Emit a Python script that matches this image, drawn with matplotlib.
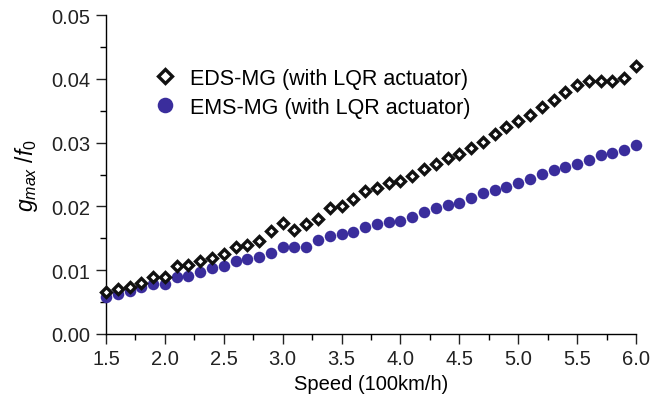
import matplotlib
matplotlib.use("Agg")
import matplotlib.pyplot as plt
from matplotlib.ticker import MultipleLocator
import numpy as np

plt.rcParams['font.family'] = ['Liberation Sans', 'DejaVu Sans']
plt.rcParams['mathtext.fontset'] = 'custom'
plt.rcParams['mathtext.rm'] = 'Liberation Sans'
plt.rcParams['mathtext.it'] = 'Liberation Sans:italic'

speed = [1.5, 1.6, 1.7, 1.8, 1.9, 2.0, 2.1, 2.2, 2.3, 2.4,
         2.5, 2.6, 2.7, 2.8, 2.9, 3.0, 3.1, 3.2, 3.3, 3.4,
         3.5, 3.6, 3.7, 3.8, 3.9, 4.0, 4.1, 4.2, 4.3, 4.4,
         4.5, 4.6, 4.7, 4.8, 4.9, 5.0, 5.1, 5.2, 5.3, 5.4,
         5.5, 5.6, 5.7, 5.8, 5.9, 6.0]
eds_mg = [0.0066, 0.0070, 0.0073, 0.0080, 0.0090, 0.0090, 0.0107, 0.0108, 0.0115, 0.0119,
          0.0126, 0.0137, 0.0140, 0.0146, 0.0161, 0.0174, 0.0163, 0.0173, 0.0181, 0.0198,
          0.0201, 0.0211, 0.0224, 0.0229, 0.0236, 0.0240, 0.0248, 0.0259, 0.0266, 0.0276,
          0.0282, 0.0291, 0.0301, 0.0314, 0.0325, 0.0334, 0.0344, 0.0356, 0.0367, 0.0380,
          0.0390, 0.0396, 0.0396, 0.0396, 0.0402, 0.0420]
ems_mg = [0.0058, 0.0063, 0.0067, 0.0073, 0.0078, 0.0079, 0.0090, 0.0091, 0.0097, 0.0104,
          0.0106, 0.0114, 0.0117, 0.0120, 0.0127, 0.0137, 0.0137, 0.0137, 0.0148, 0.0154,
          0.0157, 0.0160, 0.0168, 0.0173, 0.0176, 0.0177, 0.0183, 0.0191, 0.0197, 0.0202,
          0.0205, 0.0213, 0.0221, 0.0225, 0.0231, 0.0236, 0.0243, 0.0251, 0.0257, 0.0262,
          0.0266, 0.0272, 0.0280, 0.0284, 0.0289, 0.0296]
labels = ['EDS-MG (with LQR actuator)', 'EMS-MG (with LQR actuator)']

fig = plt.figure(figsize=(6.52, 4.06), dpi=100)
ax = fig.add_axes([106/652, 71/406, 530/652, 319/406])

ax.plot(speed, ems_mg, linestyle='none', marker='o', markersize=8.3,
        color='#3a2d9c', markeredgewidth=0, label=labels[1], clip_on=False, zorder=3)
ax.plot(speed, eds_mg, linestyle='none', marker='D', markersize=5.3,
        markerfacecolor='white', markeredgecolor='#111111', markeredgewidth=2.4,
        label=labels[0], clip_on=False, zorder=4)

ax.set_xlim(1.5, 6.0)
ax.set_ylim(0.0, 0.05)
ax.xaxis.set_major_locator(MultipleLocator(0.5))
ax.xaxis.set_minor_locator(MultipleLocator(0.25))
ax.yaxis.set_major_locator(MultipleLocator(0.01))
ax.yaxis.set_minor_locator(MultipleLocator(0.005))
ax.xaxis.set_major_formatter(matplotlib.ticker.FormatStrFormatter('%.1f'))
ax.yaxis.set_major_formatter(matplotlib.ticker.FormatStrFormatter('%.2f'))

for s in ['top', 'right']:
    ax.spines[s].set_visible(False)
for s in ['left', 'bottom']:
    ax.spines[s].set_linewidth(1.0)
ax.tick_params(which='major', direction='out', length=7, width=1.0, labelsize=14.5,
               colors='#222222', pad=4)
ax.tick_params(which='minor', direction='out', length=4, width=1.0)

ax.set_xlabel('Speed (100km/h)', fontsize=14.5, labelpad=4)
ax.set_ylabel('$g_{max}$ /$f_0$', fontsize=16.5, labelpad=8)

handles, labs = ax.get_legend_handles_labels()
ax.legend(handles[::-1], labs[::-1], loc='upper left', bbox_to_anchor=(0.07, 0.862),
          frameon=False, fontsize=15.5, handletextpad=0.6, labelspacing=0.38,
          handlelength=1.2, borderaxespad=0, markerscale=1.35)

fig.savefig('out.png', dpi=100)
